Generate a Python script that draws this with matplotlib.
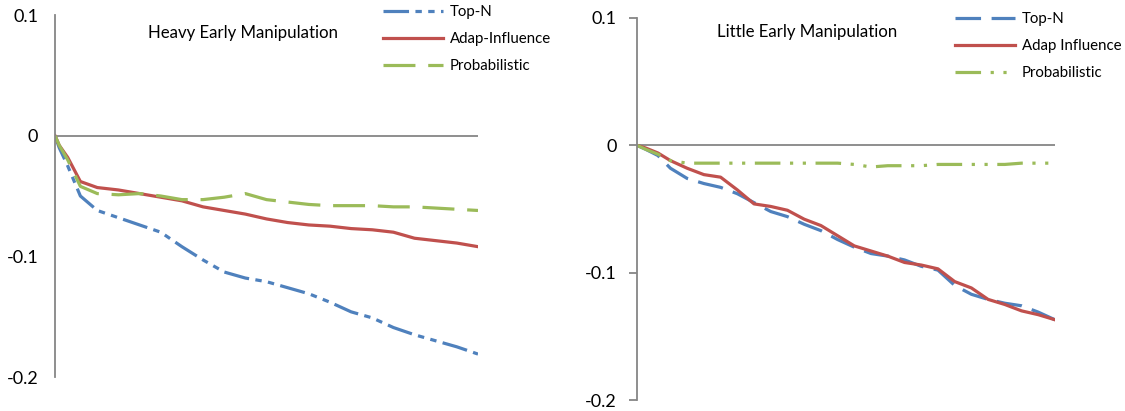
import matplotlib
matplotlib.use("Agg")
import matplotlib.pyplot as plt

plt.rcParams['font.family'] = ['Lato', 'DejaVu Sans']

# Datos (x en % del recorrido)
x_heavy = [0, 1, 3, 6, 10, 15, 20, 25, 30, 35, 40, 45, 50, 55, 60, 65, 70, 75, 80, 85, 90, 95, 100]
heavy_topn = [0, -0.010, -0.025, -0.050, -0.062, -0.068, -0.074, -0.080, -0.092, -0.103, -0.113, -0.118,
              -0.121, -0.126, -0.131, -0.138, -0.146, -0.151, -0.159, -0.165, -0.170, -0.175, -0.181]
heavy_adap = [0, -0.008, -0.018, -0.038, -0.043, -0.045, -0.048, -0.051, -0.054, -0.059, -0.062, -0.065,
              -0.069, -0.072, -0.074, -0.075, -0.077, -0.078, -0.080, -0.085, -0.087, -0.089, -0.092]
heavy_prob = [0, -0.008, -0.020, -0.042, -0.048, -0.049, -0.048, -0.050, -0.053, -0.053, -0.051, -0.048,
              -0.053, -0.055, -0.057, -0.058, -0.058, -0.058, -0.059, -0.059, -0.060, -0.061, -0.062]

x_little = [0, 2, 5, 8, 12, 16, 20, 24, 28, 32, 36, 40, 44, 48, 52, 56, 60, 64, 68, 72, 76, 80, 84, 88, 92, 96, 100]
little_topn = [0, -0.003, -0.008, -0.018, -0.026, -0.030, -0.033, -0.038, -0.045, -0.052, -0.056, -0.062, -0.067,
               -0.074, -0.080, -0.085, -0.087, -0.090, -0.095, -0.098, -0.110, -0.117, -0.121, -0.124, -0.126,
               -0.131, -0.137]
little_adap = [0, -0.002, -0.006, -0.012, -0.018, -0.023, -0.025, -0.035, -0.046, -0.048, -0.051, -0.058, -0.063,
               -0.071, -0.079, -0.083, -0.087, -0.092, -0.094, -0.097, -0.107, -0.112, -0.121, -0.125, -0.130,
               -0.133, -0.137]
little_prob = [0, -0.003, -0.007, -0.012, -0.014, -0.014, -0.014, -0.014, -0.014, -0.014, -0.014, -0.014, -0.014,
               -0.014, -0.015, -0.017, -0.016, -0.016, -0.016, -0.015, -0.015, -0.015, -0.015, -0.015, -0.014,
               -0.014, -0.014]

yticks = [0.1, 0, -0.1, -0.2]
ytick_labels = ['0.1', '0', '-0.1', '-0.2']

azul = '#4F81BD'
rojo = '#C0504D'
verde = '#9BBB59'
gris = '#868686'

W, H = 1125, 411
fig = plt.figure(figsize=(W / 100, H / 100), dpi=100)

ax1 = fig.add_axes([55 / W, 34 / H, 423 / W, 362 / H])
ax2 = fig.add_axes([637 / W, 11 / H, 418 / W, 382 / H])

lw = 2.3
ax1.plot(x_heavy, heavy_topn, color=azul, lw=lw, ls=(0, (8, 2, 2, 2, 2, 2)), label='Top-N')
ax1.plot(x_heavy, heavy_adap, color=rojo, lw=lw, label='Adap-Influence')
ax1.plot(x_heavy, heavy_prob, color=verde, lw=lw, ls=(0, (10, 4)), label='Probabilistic')

ax2.plot(x_little, little_topn, color=azul, lw=lw, ls=(0, (8, 3.3)), label='Top-N')
ax2.plot(x_little, little_adap, color=rojo, lw=lw, label='Adap Influence')
ax2.plot(x_little, little_prob, color=verde, lw=lw, ls=(0, (8, 3, 1, 3, 1, 3)), label='Probabilistic')

for ax in (ax1, ax2):
    ax.set_xlim(0, 100)
    ax.set_ylim(-0.2, 0.1)
    ax.axhline(0, color=gris, lw=1.3, zorder=0)
    for s in ('top', 'right', 'bottom'):
        ax.spines[s].set_visible(False)
    ax.spines['left'].set_color(gris)
    ax.spines['left'].set_linewidth(1.3)
    ax.set_xticks([])
    ax.set_yticks(yticks)
    ax.set_yticklabels(ytick_labels, fontsize=13)
    ax.patch.set_alpha(0)

ax1.tick_params(axis='y', length=0, pad=12)
ax2.tick_params(axis='y', length=6, color=gris, width=1.3, pad=8.5)

ax1.text(44.5, 0.085, 'Heavy Early Manipulation', fontsize=12.1, ha='center', va='center')
ax2.text(40.7, 0.089, 'Little Early Manipulation', fontsize=12.1, ha='center', va='center')

leg_kw = dict(frameon=False, fontsize=10.8, handlelength=4.0, handletextpad=0.47,
              labelspacing=0.87, borderpad=0, borderaxespad=0, loc='upper left')
ax1.legend(bbox_to_anchor=(383 / W, 1 - 5 / H), bbox_transform=fig.transFigure, **leg_kw)
ax2.legend(bbox_to_anchor=(955 / W, 1 - 12 / H), bbox_transform=fig.transFigure, **leg_kw)

fig.savefig('out.png', dpi=100)
